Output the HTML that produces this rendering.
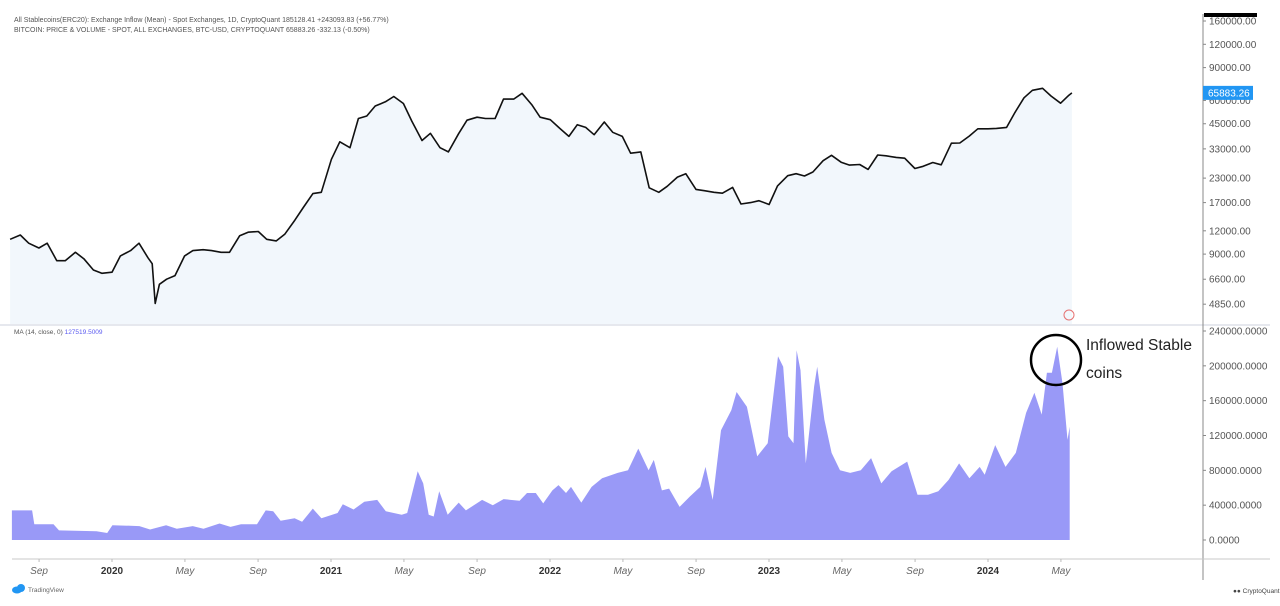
<!DOCTYPE html>
<html><head><meta charset="utf-8">
<style>
html,body{margin:0;padding:0;background:#fff;width:1280px;height:606px;overflow:hidden}
svg{display:block;font-family:"Liberation Sans",sans-serif}
</style></head>
<body>
<svg id="chart" width="1280" height="606" viewBox="0 0 1280 606" xmlns="http://www.w3.org/2000/svg">
<rect x="0" y="0" width="1280" height="606" fill="#ffffff"/>
<text x="14" y="22" font-size="7" fill="#555">All Stablecoins(ERC20): Exchange Inflow (Mean) - Spot Exchanges, 1D, CryptoQuant  185128.41  +243093.83 (+56.77%)</text>
<text x="14" y="32" font-size="7" fill="#555">BITCOIN: PRICE &amp; VOLUME - SPOT, ALL EXCHANGES, BTC-USD, CRYPTOQUANT  65883.26  -332.13 (-0.50%)</text>
<g id="pricePane"></g>
<line x1="0" y1="325" x2="1270" y2="325" stroke="#e6e8ee" stroke-width="2"/>
<text x="14" y="334" font-size="6.5" fill="#555">MA (14, close, 0) <tspan fill="#5b5bf0">127519.5009</tspan></text>
<g id="flowPane"></g>
<line x1="1203" y1="14" x2="1203" y2="580" stroke="#888" stroke-width="1"/>
<rect x="1204" y="13" width="53" height="4" fill="#000"/>
<line x1="12" y1="559" x2="1270" y2="559" stroke="#c8c8c8" stroke-width="1"/>
<g id="axes"></g>
<circle cx="1056" cy="360" r="25" fill="none" stroke="#000" stroke-width="2.5"/>
<text x="1086" y="350" font-size="15.5" fill="#222">Inflowed Stable</text>
<text x="1086" y="378" font-size="15.5" fill="#222">coins</text>
<g>
<ellipse cx="17" cy="590" rx="5" ry="3.5" fill="#2196f3"/><ellipse cx="21" cy="588" rx="4" ry="4" fill="#2196f3"/>
<text x="28" y="592" font-size="6.5" fill="#666">TradingView</text></g>
<g>
<text x="1233" y="593" font-size="6.5" fill="#444">●● CryptoQuant</text></g>
<circle cx="1069" cy="315" r="5" fill="none" stroke="#e57373" stroke-width="1"/>
</svg>
<script>
const priceDates = ["2019-07-15","2019-08-01","2019-08-15","2019-09-01","2019-09-15","2019-10-01","2019-10-15","2019-11-01","2019-11-15","2019-12-01","2019-12-15",
"2020-01-01","2020-01-15","2020-02-01","2020-02-15","2020-03-01","2020-03-08","2020-03-13","2020-03-20","2020-04-01","2020-04-15","2020-05-01","2020-05-15","2020-06-01","2020-06-15","2020-07-01","2020-07-15","2020-08-01","2020-08-15","2020-09-01","2020-09-15","2020-10-01","2020-10-15","2020-11-01","2020-11-15","2020-12-01","2020-12-15",
"2021-01-01","2021-01-15","2021-02-01","2021-02-15","2021-03-01","2021-03-15","2021-04-01","2021-04-15","2021-05-01","2021-05-15","2021-06-01","2021-06-15","2021-07-01","2021-07-15","2021-08-01","2021-08-15","2021-09-01","2021-09-15","2021-10-01","2021-10-15","2021-11-01","2021-11-15","2021-12-01","2021-12-15",
"2022-01-01","2022-01-15","2022-02-01","2022-02-15","2022-03-01","2022-03-15","2022-04-01","2022-04-15","2022-05-01","2022-05-15","2022-06-01","2022-06-15","2022-07-01","2022-07-15","2022-08-01","2022-08-15","2022-09-01","2022-09-15","2022-10-01","2022-10-15","2022-11-01","2022-11-15","2022-12-01","2022-12-15",
"2023-01-01","2023-01-15","2023-02-01","2023-02-15","2023-03-01","2023-03-15","2023-04-01","2023-04-15","2023-05-01","2023-05-15","2023-06-01","2023-06-15","2023-07-01","2023-07-15","2023-08-01","2023-08-15","2023-09-01","2023-09-15","2023-10-01","2023-10-15","2023-11-01","2023-11-15","2023-12-01","2023-12-15",
"2024-01-01","2024-01-15","2024-02-01","2024-02-15","2024-03-01","2024-03-15","2024-04-01","2024-04-15","2024-05-01","2024-05-15","2024-05-20"];
const priceValues = [10800,11400,10300,9700,10300,8300,8300,9200,8500,7400,7100,
7200,8800,9400,10300,8600,8000,4900,6200,6600,6900,8800,9400,9500,9400,9200,9200,11300,11800,11900,10800,10600,11500,13700,16000,19000,19300,
29000,36000,33500,48000,49500,56000,59000,63000,57800,46500,36600,40000,33500,31800,39800,47000,48800,48000,48000,61000,61000,65500,57000,48800,
47300,43000,38500,44500,43000,39300,46000,40500,38500,31300,31800,20400,19300,20800,23300,24300,20000,19700,19300,19100,20500,16700,17000,17400,
16600,20900,23700,24300,23600,24800,28500,30500,28000,27000,27200,25600,30600,30300,29700,29400,25900,26600,27900,27100,35400,35500,38700,42300,
42300,42500,43000,51800,62000,68000,69700,63400,58000,64000,65883];
const flowTimes = [2019.543,2019.635,2019.645,2019.733,2019.758,2019.929,2019.978,2020.002,2020.125,2020.174,2020.247,2020.296,2020.369,2020.418,2020.491,2020.541,2020.589,2020.662,2020.702,2020.736,2020.770,2020.834,2020.868,2020.917,2020.956,2021.030,2021.054,2021.103,2021.152,2021.211,2021.250,2021.323,2021.348,2021.396,2021.421,2021.446,2021.469,2021.494,2021.533,2021.583,2021.616,2021.690,2021.739,2021.788,2021.861,2021.895,2021.935,2021.969,
2022.011,2022.039,2022.073,2022.096,2022.143,2022.190,2022.238,2022.309,2022.356,2022.403,2022.450,2022.474,2022.511,2022.544,2022.592,2022.639,2022.686,2022.710,2022.743,2022.781,2022.828,2022.852,2022.899,2022.946,2022.994,2023.041,2023.065,2023.088,2023.112,2023.126,2023.144,2023.168,2023.206,2023.220,2023.253,2023.286,2023.324,2023.371,2023.419,2023.466,2023.513,2023.560,2023.631,2023.678,2023.726,2023.773,2023.820,2023.868,2023.915,2023.962,2023.985,2024.033,2024.080,2024.127,2024.174,2024.212,2024.245,2024.269,2024.292,2024.316,2024.340,2024.363,2024.373];
const flowValues = [34,34,18,18,11,10,8,17,16,12,17,13,16,13,19,15,18,18,34,33,22,25,21,36,25,31,41,35,44,46,33,29,31,79,65,29,27,56,29,43,34,46,40,47,45,54,54,42,
57,63,54,61,43,61,71,77,80,105,80,92,57,59,38,50,61,84,46,126,149,170,153,96,111,211,199,119,111,218,195,88,176,199,138,100,80,77,80,94,65,79,90,52,52,56,69,88,71,84,75,109,84,100,146,169,144,192,192,222,180,115,130];
const priceTicks = [160000,120000,90000,60000,45000,33000,23000,17000,12000,9000,6600,4850];
const flowTicks = [240000,200000,160000,120000,80000,40000,0];
const xTickLabels = ["Sep","2020","May","Sep","2021","May","Sep","2022","May","Sep","2023","May","Sep","2024","May"];
const xTickTimes = [2019.667,2020,2020.333,2020.667,2021,2021.333,2021.667,2022,2022.333,2022.667,2023,2023.333,2023.667,2024,2024.333];

const NS="http://www.w3.org/2000/svg";
function xOf(t){return 112+(t-2020)*219;}
function tOf(s){const p=s.split("-").map(Number);return 2020+(Date.UTC(p[0],p[1]-1,p[2])-Date.UTC(2020,0,1))/(365.25*86400000);}
function yPrice(v){return 21+81*Math.log(160000/v);}
function yFlow(v){return 540-v/240000*209;}
function mk(tag,attrs,parent){const e=document.createElementNS(NS,tag);for(const k in attrs)e.setAttribute(k,attrs[k]);parent.appendChild(e);return e;}

const pp=document.getElementById("pricePane");
let pts=priceDates.map((d,i)=>[xOf(tOf(d)),yPrice(priceValues[i])]);
let line=pts.map((p,i)=>(i?"L":"M")+p[0].toFixed(1)+","+p[1].toFixed(1)).join("");
const area=mk("path",{d:line+"L"+pts[pts.length-1][0].toFixed(1)+",324L"+pts[0][0].toFixed(1)+",324Z",fill:"#f2f7fc"},pp);


const pl=mk("path",{d:line,fill:"none",stroke:"#111","stroke-width":1.6,"stroke-linejoin":"round"},pp);



const fp=document.getElementById("flowPane");
let fpts=flowTimes.map((t,i)=>[xOf(t),yFlow(flowValues[i]*1000)]);
let fd="M"+fpts[0][0].toFixed(1)+",540"+fpts.map(p=>"L"+p[0].toFixed(1)+","+p[1].toFixed(1)).join("")+"L"+fpts[fpts.length-1][0].toFixed(1)+",540Z";
const fa=mk("path",{d:fd,fill:"#9999f7"},fp);



const ax=document.getElementById("axes");
priceTicks.forEach(v=>{
  const y=yPrice(v);
  mk("line",{x1:1203,y1:y,x2:1206,y2:y,stroke:"#888"},ax);
  const t=mk("text",{x:1209,y:y+3.5,"font-size":10,fill:"#555"},ax);
  
  
  t.textContent=v.toFixed(2);
});
const lastP=priceValues[priceValues.length-1];
const ly=yPrice(lastP);
const bx=mk("rect",{x:1203,y:ly-7,width:50,height:14,fill:"#2196f3"},ax);


const bt=mk("text",{x:1208,y:ly+3.5,"font-size":10,fill:"#fff"},ax);


bt.textContent=lastP.toFixed(2)==="65883.00"?"65883.26":lastP.toFixed(2);
flowTicks.forEach(v=>{
  const y=yFlow(v);
  mk("line",{x1:1203,y1:y,x2:1206,y2:y,stroke:"#888"},ax);
  const t=mk("text",{x:1209,y:y+3.5,"font-size":10,fill:"#555"},ax);
  
  
  t.textContent=v.toFixed(4);
});
xTickLabels.forEach((s,i)=>{
  const x=xOf(xTickTimes[i]);
  const bold=/^\d/.test(s);
  mk("line",{x1:x,y1:559,x2:x,y2:562,stroke:"#bbb"},ax);
  const t=mk("text",{x:x,y:574,"font-size":10,"text-anchor":"middle",fill:bold?"#333":"#666","font-weight":bold?"bold":"normal","font-style":bold?"normal":"italic"},ax);
  
  
  t.textContent=s;
});
</script>
</body></html>
